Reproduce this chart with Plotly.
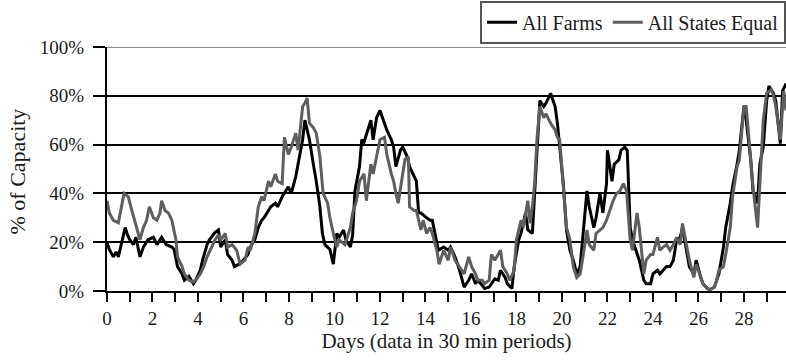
import plotly.graph_objects as go

# ---- data ----
farms_days = [0.0, 0.1, 0.28, 0.4, 0.5, 0.65, 0.8, 0.9, 1.0, 1.16, 1.27, 1.45, 1.6, 1.8, 2.04, 2.2, 2.4, 2.6, 2.85, 2.95,
              3.1, 3.3, 3.4, 3.6, 3.8, 3.9, 4.1, 4.2, 4.4, 4.5, 4.75, 4.9, 5.0, 5.2, 5.3, 5.5, 5.6, 5.8, 6.0, 6.2,
              6.3, 6.5, 6.65, 6.8, 6.9, 7.1, 7.2, 7.4, 7.5, 7.7, 7.8, 7.97, 8.1, 8.3, 8.4, 8.6, 8.7, 8.78, 8.9, 9.07,
              9.2, 9.36, 9.47, 9.58, 9.8, 9.95, 10.1, 10.2, 10.4, 10.5, 10.7, 10.8, 10.9, 11.1, 11.2, 11.3, 11.5, 11.6, 11.7, 11.85,
              12.0, 12.2, 12.3, 12.5, 12.6, 12.7, 12.9, 13.0, 13.2, 13.3, 13.5, 13.6, 13.7, 13.8, 14.05, 14.2, 14.3, 14.46, 14.57, 14.8,
              15.0, 15.1, 15.3, 15.5, 15.7, 15.9, 16.03, 16.2, 16.3, 16.5, 16.6, 16.8, 16.9, 17.05, 17.2, 17.3, 17.5, 17.6, 17.8, 17.9,
              18.1, 18.2, 18.4, 18.5, 18.7, 18.8, 18.9, 19.03, 19.2, 19.3, 19.5, 19.7, 19.8, 19.9, 20.06, 20.2, 20.35, 20.5, 20.65, 20.8,
              20.94, 21.1, 21.2, 21.4, 21.5, 21.67, 21.8, 21.96, 22.0, 22.2, 22.3, 22.5, 22.6, 22.76, 22.87, 23.0, 23.1, 23.3, 23.4, 23.6,
              23.7, 23.9, 24.0, 24.2, 24.3, 24.45, 24.6, 24.75, 24.9, 25.04, 25.2, 25.3, 25.5, 25.6, 25.8, 25.9, 26.1, 26.2, 26.4, 26.5,
              26.7, 26.8, 26.9, 27.1, 27.2, 27.4, 27.5, 27.7, 27.8, 28.0, 28.1, 28.3, 28.4, 28.6, 28.7, 28.85, 29.0, 29.1, 29.3, 29.4,
              29.6, 29.7, 29.85]
farms_pct = [20, 17, 14, 16, 14, 20, 26, 23, 21, 19, 22, 14, 18, 21, 22, 19, 22, 19, 18, 17,
             10, 7, 4.4, 6, 3, 4.4, 8.5, 12.6, 19, 21, 24, 25, 18, 21, 15, 12.6, 10, 11, 12.6, 15,
             18, 21, 26, 29, 30, 33, 34.5, 36, 34.5, 38.6, 40, 42.7, 40, 47, 52, 62, 70, 67, 62, 52,
             45, 34.5, 23.6, 19, 17, 11, 23.6, 22, 25, 21, 18, 23, 41, 51, 62, 61, 67, 70, 62, 71,
             74, 69, 66, 62, 59, 51, 57.7, 59, 55, 51, 47, 45, 32, 32, 30, 29, 29, 22, 16.7, 18,
             16.7, 18, 14, 8.5, 1.6, 4.4, 7, 3, 4.4, 2.3, 1, 1.6, 3, 5, 4.4, 8.5, 5.6, 3, 1, 10,
             21, 23.6, 32, 25, 23.6, 40, 57.7, 78, 75.6, 77, 81, 75.6, 68.8, 59, 44, 25, 16.7, 12.6, 7, 10,
             26, 41, 34.5, 26, 30, 40, 32, 44, 57.7, 45, 52, 53.7, 57.7, 59, 57.7, 26, 21, 15, 12.6, 4.4,
             3, 3, 7, 8.5, 7, 8.5, 10, 10, 12.6, 21, 22, 26, 15, 10, 7, 12.6, 5.6, 3, 1, 0.5,
             1.6, 4.4, 7, 18, 26, 36, 42.7, 52, 57.7, 75.6, 70, 53.7, 41, 36, 52, 59, 78, 84, 81, 78,
             60.4, 82, 85]

states_days = [0.0, 0.1, 0.28, 0.5, 0.75, 0.94, 1.05, 1.23, 1.33, 1.45, 1.6, 1.74, 1.86, 2.04, 2.2, 2.33, 2.4, 2.55, 2.7, 2.85,
               3.03, 3.1, 3.3, 3.4, 3.6, 3.8, 3.95, 4.1, 4.25, 4.4, 4.6, 4.75, 4.9, 5.0, 5.2, 5.3, 5.5, 5.7, 5.85, 6.07,
               6.2, 6.3, 6.5, 6.65, 6.8, 6.9, 7.1, 7.2, 7.4, 7.5, 7.7, 7.8, 7.97, 8.1, 8.3, 8.4, 8.6, 8.7, 8.8, 8.9,
               9.07, 9.2, 9.36, 9.5, 9.7, 9.8, 9.95, 10.1, 10.2, 10.46, 10.7, 10.8, 10.97, 11.1, 11.3, 11.4, 11.6, 11.7, 11.85, 12.0,
               12.2, 12.3, 12.5, 12.6, 12.7, 12.8, 12.95, 13.1, 13.25, 13.3, 13.5, 13.6, 13.8, 13.9, 14.05, 14.2, 14.3, 14.5, 14.6, 14.8,
               15.0, 15.1, 15.3, 15.5, 15.7, 15.9, 16.03, 16.2, 16.3, 16.5, 16.6, 16.8, 16.9, 17.05, 17.3, 17.4, 17.6, 17.7, 17.9, 18.0,
               18.2, 18.3, 18.5, 18.6, 18.7, 18.8, 18.9, 19.03, 19.2, 19.3, 19.5, 19.7, 19.8, 19.9, 20.06, 20.2, 20.35, 20.5, 20.65, 20.8,
               20.94, 21.1, 21.2, 21.4, 21.5, 21.67, 21.8, 21.96, 22.1, 22.25, 22.4, 22.55, 22.7, 22.84, 23.0, 23.1, 23.3, 23.4, 23.6, 23.7,
               23.9, 24.0, 24.2, 24.3, 24.45, 24.6, 24.75, 24.9, 25.04, 25.2, 25.3, 25.5, 25.6, 25.8, 25.9, 26.1, 26.2, 26.4, 26.5, 26.7,
               26.8, 26.9, 27.1, 27.2, 27.4, 27.5, 27.7, 27.8, 28.0, 28.1, 28.3, 28.4, 28.6, 28.7, 28.85, 29.0, 29.2, 29.3, 29.4, 29.6,
               29.75, 29.85]
states_pct = [37, 32, 29, 28, 40, 38.6, 34.5, 29, 25, 21, 26, 29, 34.5, 30, 29, 32, 37, 33, 32, 29,
              21, 14, 10, 7, 4.4, 3.7, 5, 7, 10, 14, 18, 21, 23, 21, 23.6, 18, 19, 16.7, 11, 12.6,
              18, 16.7, 23.6, 34.5, 38.6, 37, 45, 42.7, 48, 45, 44, 63, 56, 59, 64.7, 57.7, 75.6, 77, 79, 68.8,
              67, 64.7, 55, 40, 36, 30, 23.6, 18, 21, 19, 26, 32, 37, 45, 48, 37, 52, 48, 55, 62,
              63, 56, 48, 45, 40, 36, 45, 54, 55, 34.5, 33, 33, 25, 29, 23.6, 26, 23.6, 16.7, 11, 16.7,
              12.6, 18, 12.6, 10, 7, 14, 10, 7, 4.4, 4.4, 3, 4.4, 15, 12.6, 16.7, 10, 7, 4.4, 8.5, 21,
              29, 26, 37, 27.7, 34.5, 44, 62, 75.6, 71, 72.6, 68.8, 66, 63, 62, 41, 26, 21, 10, 5.6, 7,
              15, 25, 19, 16.7, 23.6, 25, 26, 29, 33, 37, 40, 41, 44, 41, 21, 16.7, 32, 26, 7, 12.6,
              15, 15, 22, 16.7, 18, 19, 16.7, 19, 22, 19, 27.7, 18, 12.6, 5.6, 11, 5.6, 3, 1, 0.5, 1.6,
              4.4, 8.6, 10, 15, 26, 38.6, 51, 53.7, 75.6, 75.6, 55, 42.7, 26, 45, 70, 81, 82.5, 80, 75.6, 62,
              82, 74]

y_ticks = [0, 20, 40, 60, 80, 100]
y_tick_labels = ["0%", "20%", "40%", "60%", "80%", "100%"]
x_ticks = [0, 2, 4, 6, 8, 10, 12, 14, 16, 18, 20, 22, 24, 26, 28]

FONT = "Liberation Serif"
TXT = "#1a1a1a"

fig = go.Figure()
fig.add_trace(go.Scatter(x=farms_days, y=farms_pct, mode="lines", name="All Farms",
                         line=dict(color="#000000", width=3)))
fig.add_trace(go.Scatter(x=states_days, y=states_pct, mode="lines", name="All States Equal",
                         line=dict(color="#5e5e5e", width=3)))

fig.update_layout(
    width=786, height=362,
    margin=dict(l=107, r=0, t=47, b=71),
    paper_bgcolor="white", plot_bgcolor="white",
    font=dict(family=FONT, size=18, color=TXT),
    showlegend=True,
    legend=dict(orientation="h", x=1, xanchor="right", y=1.19, yanchor="top",
                bordercolor="#555555", borderwidth=2, bgcolor="white",
                font=dict(family=FONT, size=20, color=TXT),
                itemwidth=30, tracegroupgap=0),
    xaxis=dict(range=[0, 29.85], tickvals=x_ticks, ticks="outside", ticklen=9, tickwidth=2,
               tickcolor="black", showline=True, linecolor="black", linewidth=2,
               showgrid=False, zeroline=False,
               minor=dict(dtick=1, ticks="outside", ticklen=9, tickwidth=2, tickcolor="black", showgrid=False),
               tickfont=dict(family=FONT, size=19, color=TXT),
               title=dict(text="Days (data in 30 min periods)", font=dict(family=FONT, size=21, color=TXT),
                          standoff=6)),
    yaxis=dict(range=[0, 100], tickvals=y_ticks, ticktext=y_tick_labels, ticks="outside", ticklen=12,
               tickwidth=2, tickcolor="black", showline=True, linecolor="black", linewidth=2,
               showgrid=True, gridcolor="black", gridwidth=2, zeroline=False, ticklabelstandoff=5,
               tickfont=dict(family=FONT, size=19, color=TXT)),
)
fig.add_annotation(text="% of Capacity", xref="paper", yref="paper",
                   x=-0.1325, y=0.49, xanchor="center", yanchor="middle",
                   textangle=-90, showarrow=False, font=dict(family=FONT, size=22, color=TXT))
fig.add_shape(type="line", xref="paper", yref="y", x0=0, x1=1, y0=100, y1=100,
              line=dict(color="#8a8a8a", width=2), layer="above")

fig.write_html("out.html")
